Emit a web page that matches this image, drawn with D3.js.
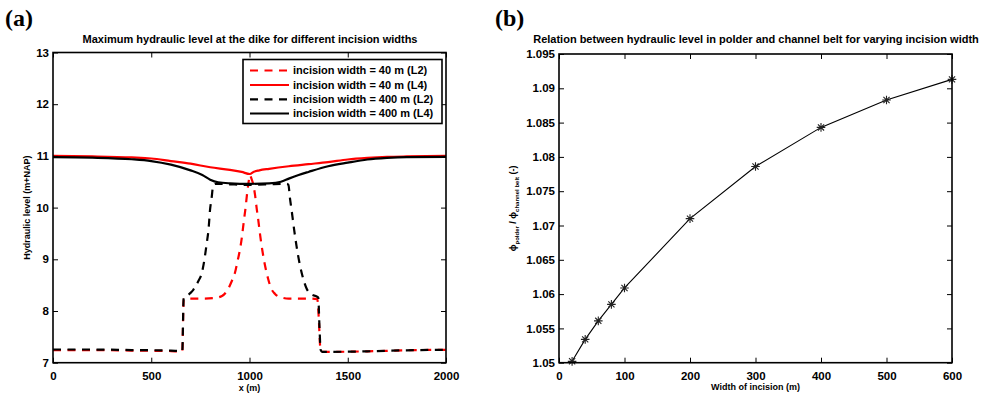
<!DOCTYPE html>
<html>
<head>
<meta charset="utf-8">
<script src="https://cdn.jsdelivr.net/npm/d3@7"></script>
<style>
  html, body { margin: 0; padding: 0; background: #fff; }
  svg { display: block; }
  text { font-family: "Liberation Sans", Arial, Helvetica, sans-serif; font-weight: bold; fill: #000; }
  .panel { font-family: "Liberation Serif", "Times New Roman", serif; font-size: 24px; }
</style>
</head>
<body>
<svg id="fig" width="983" height="400"></svg>
<script>
// ---- Panel (a): maximum hydraulic level along the dike ----
const distTicks = [0, 500, 1000, 1500, 2000];
const levelTicks = [7, 8, 9, 10, 11, 12, 13];

// incision width = 40 m, L2
const w40L2X = [0, 200, 400, 600, 650, 658, 665, 700, 760, 820, 860, 884, 910, 926, 940, 952, 962, 970, 980, 988, 995, 1002,
  1010, 1019, 1028, 1037, 1045, 1053, 1065, 1079, 1095, 1110, 1130, 1155, 1200, 1300, 1345, 1352, 1360, 1368, 1400, 1600, 1800, 2000];
const w40L2Y = [7.245, 7.245, 7.235, 7.225, 7.215, 7.215, 8.23, 8.24, 8.24, 8.25, 8.29, 8.38, 8.58, 8.74, 8.98, 9.2, 9.45, 9.7, 10.0, 10.28, 10.48, 10.63,
  10.56, 10.45, 10.25, 9.97, 9.75, 9.5, 9.18, 8.88, 8.62, 8.44, 8.33, 8.27, 8.24, 8.24, 8.23, 7.9, 7.3, 7.21, 7.21, 7.22, 7.24, 7.25];

// incision width = 40 m, L4
const w40L4X = [0, 200, 400, 500, 600, 700, 800, 900, 960, 1002, 1020, 1050, 1100, 1200, 1300, 1400, 1500, 1600, 1700, 1800, 2000];
const w40L4Y = [11.0, 10.99, 10.97, 10.95, 10.9, 10.85, 10.78, 10.73, 10.69, 10.65, 10.69, 10.72, 10.75, 10.8, 10.84, 10.88, 10.93, 10.96, 10.98, 10.99, 11.0];

// incision width = 400 m, L2
const w400L2X = [0, 200, 400, 600, 650, 658, 665, 680, 700, 714, 740, 757, 770, 782, 792, 799, 807, 816, 830, 900, 1000, 1100, 1170, 1190,
  1198, 1206, 1215, 1228, 1240, 1257, 1266, 1291, 1315, 1342, 1350, 1356, 1362, 1370, 1400, 1600, 1800, 2000];
const w400L2Y = [7.255, 7.255, 7.245, 7.235, 7.225, 7.225, 8.25, 8.29, 8.35, 8.41, 8.58, 8.73, 8.98, 9.3, 9.6, 9.95, 10.18, 10.44, 10.46, 10.45, 10.44, 10.45, 10.46, 10.46,
  10.44, 10.18, 9.93, 9.55, 9.24, 8.88, 8.73, 8.43, 8.32, 8.28, 8.26, 7.7, 7.25, 7.21, 7.21, 7.22, 7.24, 7.25];

// incision width = 400 m, L4
const w400L4X = [0, 200, 400, 500, 600, 700, 760, 800, 840, 900, 1000, 1100, 1160, 1200, 1250, 1300, 1400, 1500, 1600, 1700, 1800, 2000];
const w400L4Y = [10.975, 10.965, 10.935, 10.9, 10.83, 10.72, 10.63, 10.54, 10.49, 10.47, 10.46, 10.47, 10.5, 10.56, 10.63, 10.69, 10.8, 10.87, 10.93, 10.96, 10.975, 10.98];

const legendLabels = [
  "incision width = 40 m (L2)",
  "incision width = 40 m (L4)",
  "incision width = 400 m (L2)",
  "incision width = 400 m (L4)"
];

// ---- Panel (b): level ratio versus incision width ----
const incisionWidths = [20, 40, 60, 80, 100, 200, 300, 400, 500, 600];
const levelRatio = [1.0502, 1.0534, 1.0561, 1.0585, 1.0609, 1.0710, 1.0786, 1.0843, 1.0883, 1.0913];
const widthTicks = [0, 100, 200, 300, 400, 500, 600];
const ratioTicks = [1.05, 1.055, 1.06, 1.065, 1.07, 1.075, 1.08, 1.085, 1.09, 1.095];

const svg = d3.select("#fig");
svg.append("rect").attr("width", 983).attr("height", 400).attr("fill", "#fff");

const TICK = 5;
const DASH = "8,6.5";

// Draws a boxed Matlab-style axes with inward ticks on all four sides.
function boxAxes(g, x, y, xTicks, yTicks, xFmt, yFmt) {
  const [x0, x1] = x.range();
  const [y0, y1] = y.range();
  g.append("g").attr("transform", `translate(0,${y0})`)
    .call(d3.axisBottom(x).tickValues(xTicks).tickSizeInner(-TICK).tickSizeOuter(0).tickPadding(9).tickFormat(xFmt))
    .call(s => s.select(".domain").remove())
    .call(s => s.selectAll("text").attr("font-size", "11.5px").attr("font-family", null).attr("fill", "#000"))
    .call(s => s.selectAll("line").attr("stroke", "#000").attr("stroke-width", 1));
  g.append("g").attr("transform", `translate(0,${y1})`)
    .call(d3.axisTop(x).tickValues(xTicks).tickSizeInner(-TICK).tickSizeOuter(0).tickFormat(""))
    .call(s => s.select(".domain").remove())
    .call(s => s.selectAll("line").attr("stroke", "#000"));
  g.append("g").attr("transform", `translate(${x0},0)`)
    .call(d3.axisLeft(y).tickValues(yTicks).tickSizeInner(-TICK).tickSizeOuter(0).tickPadding(4).tickFormat(yFmt))
    .call(s => s.select(".domain").remove())
    .call(s => s.selectAll("text").attr("font-size", "11.5px").attr("font-family", null).attr("fill", "#000"))
    .call(s => s.selectAll("line").attr("stroke", "#000"));
  g.append("g").attr("transform", `translate(${x1},0)`)
    .call(d3.axisRight(y).tickValues(yTicks).tickSizeInner(-TICK).tickSizeOuter(0).tickFormat(""))
    .call(s => s.select(".domain").remove())
    .call(s => s.selectAll("line").attr("stroke", "#000"));
  g.append("rect")
    .attr("x", x0).attr("y", y1).attr("width", x1 - x0).attr("height", y0 - y1)
    .attr("fill", "none").attr("stroke", "#000").attr("stroke-width", 1.6);
}

// ---------- Panel (a) ----------
const xA = d3.scaleLinear().domain([0, 2000]).range([53, 446]);
const yA = d3.scaleLinear().domain([7, 13]).range([362.7, 52.5]);
const gA = svg.append("g");

const lineA = d3.line().x(d => xA(d[0])).y(d => yA(d[1])).curve(d3.curveMonotoneX);
const zip = (xs, ys) => xs.map((v, i) => [v, ys[i]]);

const seriesA = [
  { data: zip(w40L2X, w40L2Y), color: "#ff0000", dash: DASH },
  { data: zip(w40L4X, w40L4Y), color: "#ff0000", dash: null },
  { data: zip(w400L2X, w400L2Y), color: "#000000", dash: DASH },
  { data: zip(w400L4X, w400L4Y), color: "#000000", dash: null }
];

gA.append("g").selectAll("path").data(seriesA).join("path")
  .attr("d", d => lineA(d.data))
  .attr("fill", "none")
  .attr("stroke", d => d.color)
  .attr("stroke-width", 2.2)
  .attr("stroke-dasharray", d => d.dash);

boxAxes(gA, xA, yA, distTicks, levelTicks, d3.format("d"), d3.format("d"));

gA.append("text").attr("x", 250).attr("y", 43).attr("text-anchor", "middle")
  .attr("font-size", "11px")
  .text("Maximum hydraulic level at the dike for different incision widths");
gA.append("text").attr("x", xA(1000)).attr("y", 391).attr("text-anchor", "middle")
  .attr("font-size", "9px").text("x (m)");
gA.append("text").attr("transform", `translate(30,${yA(10)}) rotate(-90)`).attr("text-anchor", "middle")
  .attr("font-size", "9px").text("Hydraulic level (m+NAP)");

// legend
const leg = gA.append("g");
leg.append("rect").attr("x", 243).attr("y", 59.5).attr("width", 199).attr("height", 64)
  .attr("fill", "#fff").attr("stroke", "#000").attr("stroke-width", 1.6);
const legRows = [70.5, 85, 99.3, 113.5];
seriesA.forEach((s, i) => {
  leg.append("line").attr("x1", 250).attr("x2", 289).attr("y1", legRows[i]).attr("y2", legRows[i])
    .attr("stroke", s.color).attr("stroke-width", 2.2).attr("stroke-dasharray", s.dash);
  leg.append("text").attr("x", 293).attr("y", legRows[i]).attr("dy", "0.35em")
    .attr("font-size", "11px").text(legendLabels[i]);
});

svg.append("text").attr("class", "panel").attr("x", 5).attr("y", 26).text("(a)");

// ---------- Panel (b) ----------
const xB = d3.scaleLinear().domain([0, 600]).range([559, 952]);
const yB = d3.scaleLinear().domain([1.05, 1.095]).range([362.7, 54]);
const gB = svg.append("g");

const ptsB = incisionWidths.map((w, i) => [w, levelRatio[i]]);
gB.append("path")
  .attr("d", d3.line().x(d => xB(d[0])).y(d => yB(d[1]))(ptsB))
  .attr("fill", "none").attr("stroke", "#000").attr("stroke-width", 1.1);

// asterisk markers: a plus and a cross overlaid
function asterisk(r) {
  const p = d3.path();
  const q = r * 0.72;
  p.moveTo(-r, 0); p.lineTo(r, 0);
  p.moveTo(0, -r); p.lineTo(0, r);
  p.moveTo(-q, -q); p.lineTo(q, q);
  p.moveTo(-q, q); p.lineTo(q, -q);
  return p.toString();
}
gB.append("g").selectAll("path").data(ptsB).join("path")
  .attr("transform", d => `translate(${xB(d[0])},${yB(d[1])})`)
  .attr("d", asterisk(4.3))
  .attr("fill", "none").attr("stroke", "#222").attr("stroke-width", 1.1);

boxAxes(gB, xB, yB, widthTicks, ratioTicks, d3.format("d"), d => String(+d.toFixed(3)));

gB.append("text").attr("x", 756).attr("y", 43).attr("text-anchor", "middle")
  .attr("font-size", "11px")
  .text("Relation between hydraulic level in polder and channel belt for varying incision width");
gB.append("text").attr("x", xB(300)).attr("y", 390).attr("text-anchor", "middle")
  .attr("font-size", "9px").text("Width of incision (m)");

const yLab = gB.append("text").attr("transform", `translate(516,${yB(1.0725)}) rotate(-90)`)
  .attr("text-anchor", "middle").attr("font-size", "9px");
yLab.append("tspan").text("\u03d5");
yLab.append("tspan").attr("font-size", "6px").attr("dy", "2.5").text("polder");
yLab.append("tspan").attr("dy", "-2.5").text(" / \u03d5");
yLab.append("tspan").attr("font-size", "6px").attr("dy", "2.5").text("channel belt");
yLab.append("tspan").attr("dy", "-2.5").text(" (-)");

svg.append("text").attr("class", "panel").attr("x", 495).attr("y", 26).text("(b)");
</script>
</body>
</html>
